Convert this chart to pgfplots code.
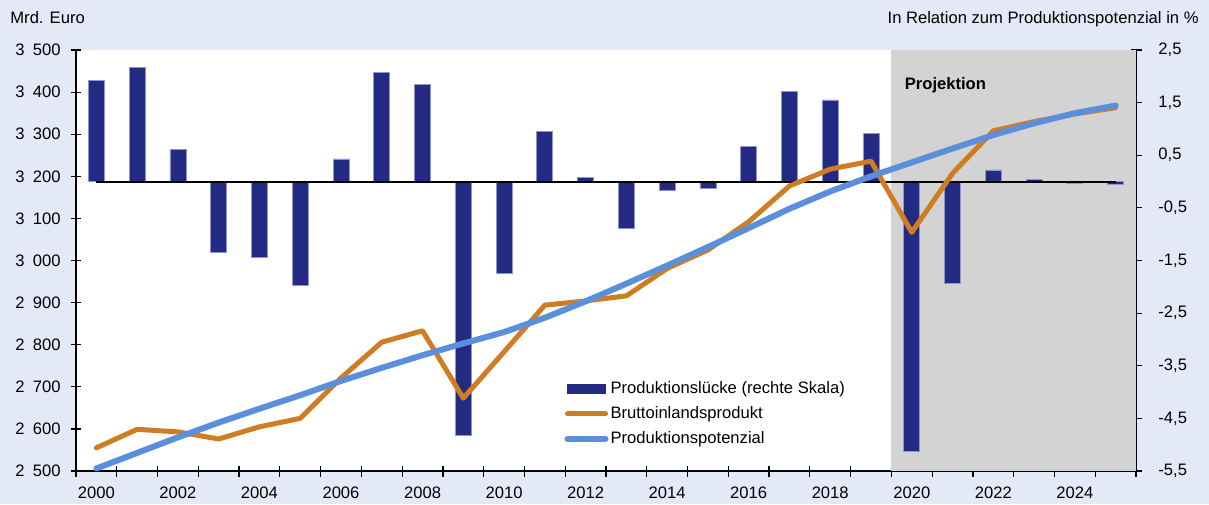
\documentclass[border=0pt]{standalone}
\usepackage{fontspec}
\setmainfont{Liberation Sans}
\usepackage{pgfplots}
\pgfplotsset{compat=1.18}

\definecolor{bgblue}{HTML}{E3E9F7}
\definecolor{navy}{HTML}{232A84}
\definecolor{navyedge}{HTML}{9096C8}
\definecolor{bip}{HTML}{CF7D23}
\definecolor{pot}{HTML}{5A8FDC}
\definecolor{proj}{HTML}{D3D3D3}
\newcommand{\ts}{\hspace{0.5em}}

\begin{document}
\fontsize{8.3}{10}\selectfont
\begin{tikzpicture}
\fill[bgblue] (-38pt,-16.5pt) rectangle (566.5pt,235.5pt);
\node[anchor=base west, inner sep=0pt] at (-33pt,223.5pt) {Mrd. Euro};
\node[anchor=base east, inner sep=0pt] at (561.5pt,223.5pt) {In Relation zum Produktionspotenzial in \%};

% right scale: output gap (bars)
\begin{axis}[
  scale only axis, width=530pt, height=210.5pt,
  xmin=1999.5, xmax=2025.5, ymin=-5.5, ymax=2.5,
  axis x line*=bottom, axis y line*=right,
  axis line style={black, line width=0.6pt},
  axis background/.style={fill=white},
  tick align=center, major tick length=5.5pt,
  tick style={black, line width=0.6pt},
  xtick={1999.5,2000.5,...,2025.5}, xticklabels={},
  extra x ticks={2000,2002,...,2024},
  extra x tick labels={2000,2002,2004,2006,2008,2010,2012,2014,2016,2018,2020,2022,2024},
  extra x tick style={major tick length=0pt, xticklabel style={yshift=-5pt}},
  ytick={-5.5,-4.5,...,2.5},
  yticklabels={{-5,5},{-4,5},{-3,5},{-2,5},{-1,5},{-0,5},{0,5},{1,5},{2,5}},
  yticklabel style={xshift=5.5pt},
]
\fill[proj] (axis cs:2019.5,-5.5) rectangle (axis cs:2025.5,2.5);
\addplot[ybar, bar width=8pt, fill=navy, draw=navyedge, line width=0.4pt] coordinates {
 (2000,1.92) (2001,2.17) (2002,0.61) (2003,-1.34) (2004,-1.44) (2005,-1.97)
 (2006,0.43) (2007,2.07) (2008,1.84) (2009,-4.82) (2010,-1.74) (2011,0.96)
 (2012,0.08) (2013,-0.89) (2014,-0.16) (2015,-0.13) (2016,0.67) (2017,1.72)
 (2018,1.55) (2019,0.91) (2020,-5.12) (2021,-1.93) (2022,0.22) (2023,0.04)
 (2024,-0.03) (2025,-0.05)};
\addplot[black, line width=1pt] coordinates {(2000,0) (2025,0)};
\node[anchor=west, inner sep=0pt, font=\fontsize{8.3}{10}\bfseries\selectfont] at (axis cs:2019.82,1.83) {Projektion};
\end{axis}

% left scale: GDP and potential output
\begin{axis}[
  scale only axis, width=530pt, height=210.5pt,
  xmin=1999.5, xmax=2025.5, ymin=2500, ymax=3500,
  axis x line=none, axis y line*=left,
  axis line style={black, line width=0.6pt},
  tick align=center, major tick length=5.5pt,
  tick style={black, line width=0.6pt},
  ytick={2500,2600,...,3500},
  yticklabels={2\ts500,2\ts600,2\ts700,2\ts800,2\ts900,3\ts000,3\ts100,3\ts200,3\ts300,3\ts400,3\ts500},
  yticklabel style={xshift=-2pt},
  legend image code/.code={\draw[#1] (0pt,0pt) -- (19pt,0pt);},
  legend style={draw=none, fill=none, at={(0.4605,0.222)}, anchor=north west,
    inner sep=0pt, row sep=1.5pt, legend cell align=left,
    nodes={inner sep=1pt, text height=7pt, text depth=2pt}},
]
\addlegendimage{legend image code/.code={\fill[navy] (0pt,-2.4pt) rectangle (19pt,2.4pt);}}
\addlegendentry{Produktionslücke (rechte Skala)}
\addplot[bip, line width=2.5pt, line join=round, line cap=round] coordinates {
 (2000,2555) (2001,2599) (2002,2593) (2003,2576) (2004,2605) (2005,2625)
 (2006,2721) (2007,2806) (2008,2833) (2009,2673) (2010,2783) (2011,2894)
 (2012,2904) (2013,2916) (2014,2981) (2015,3025) (2016,3092) (2017,3177)
 (2018,3217) (2019,3236) (2020,3067) (2021,3207) (2022,3308) (2023,3330)
 (2024,3348) (2025,3363)};
\addlegendentry{Bruttoinlandsprodukt}
\addplot[pot, line width=3pt, line join=round, line cap=round] coordinates {
 (2000,2506) (2001,2543) (2002,2580) (2003,2615) (2004,2648) (2005,2680)
 (2006,2714) (2007,2745) (2008,2775) (2009,2803) (2010,2830) (2011,2864)
 (2012,2903) (2013,2945) (2014,2988) (2015,3032) (2016,3077) (2017,3123)
 (2018,3164) (2019,3200) (2020,3233) (2021,3266) (2022,3298) (2023,3326)
 (2024,3350) (2025,3368)};
\addlegendentry{Produktionspotenzial}
\end{axis}
\end{tikzpicture}
\end{document}
